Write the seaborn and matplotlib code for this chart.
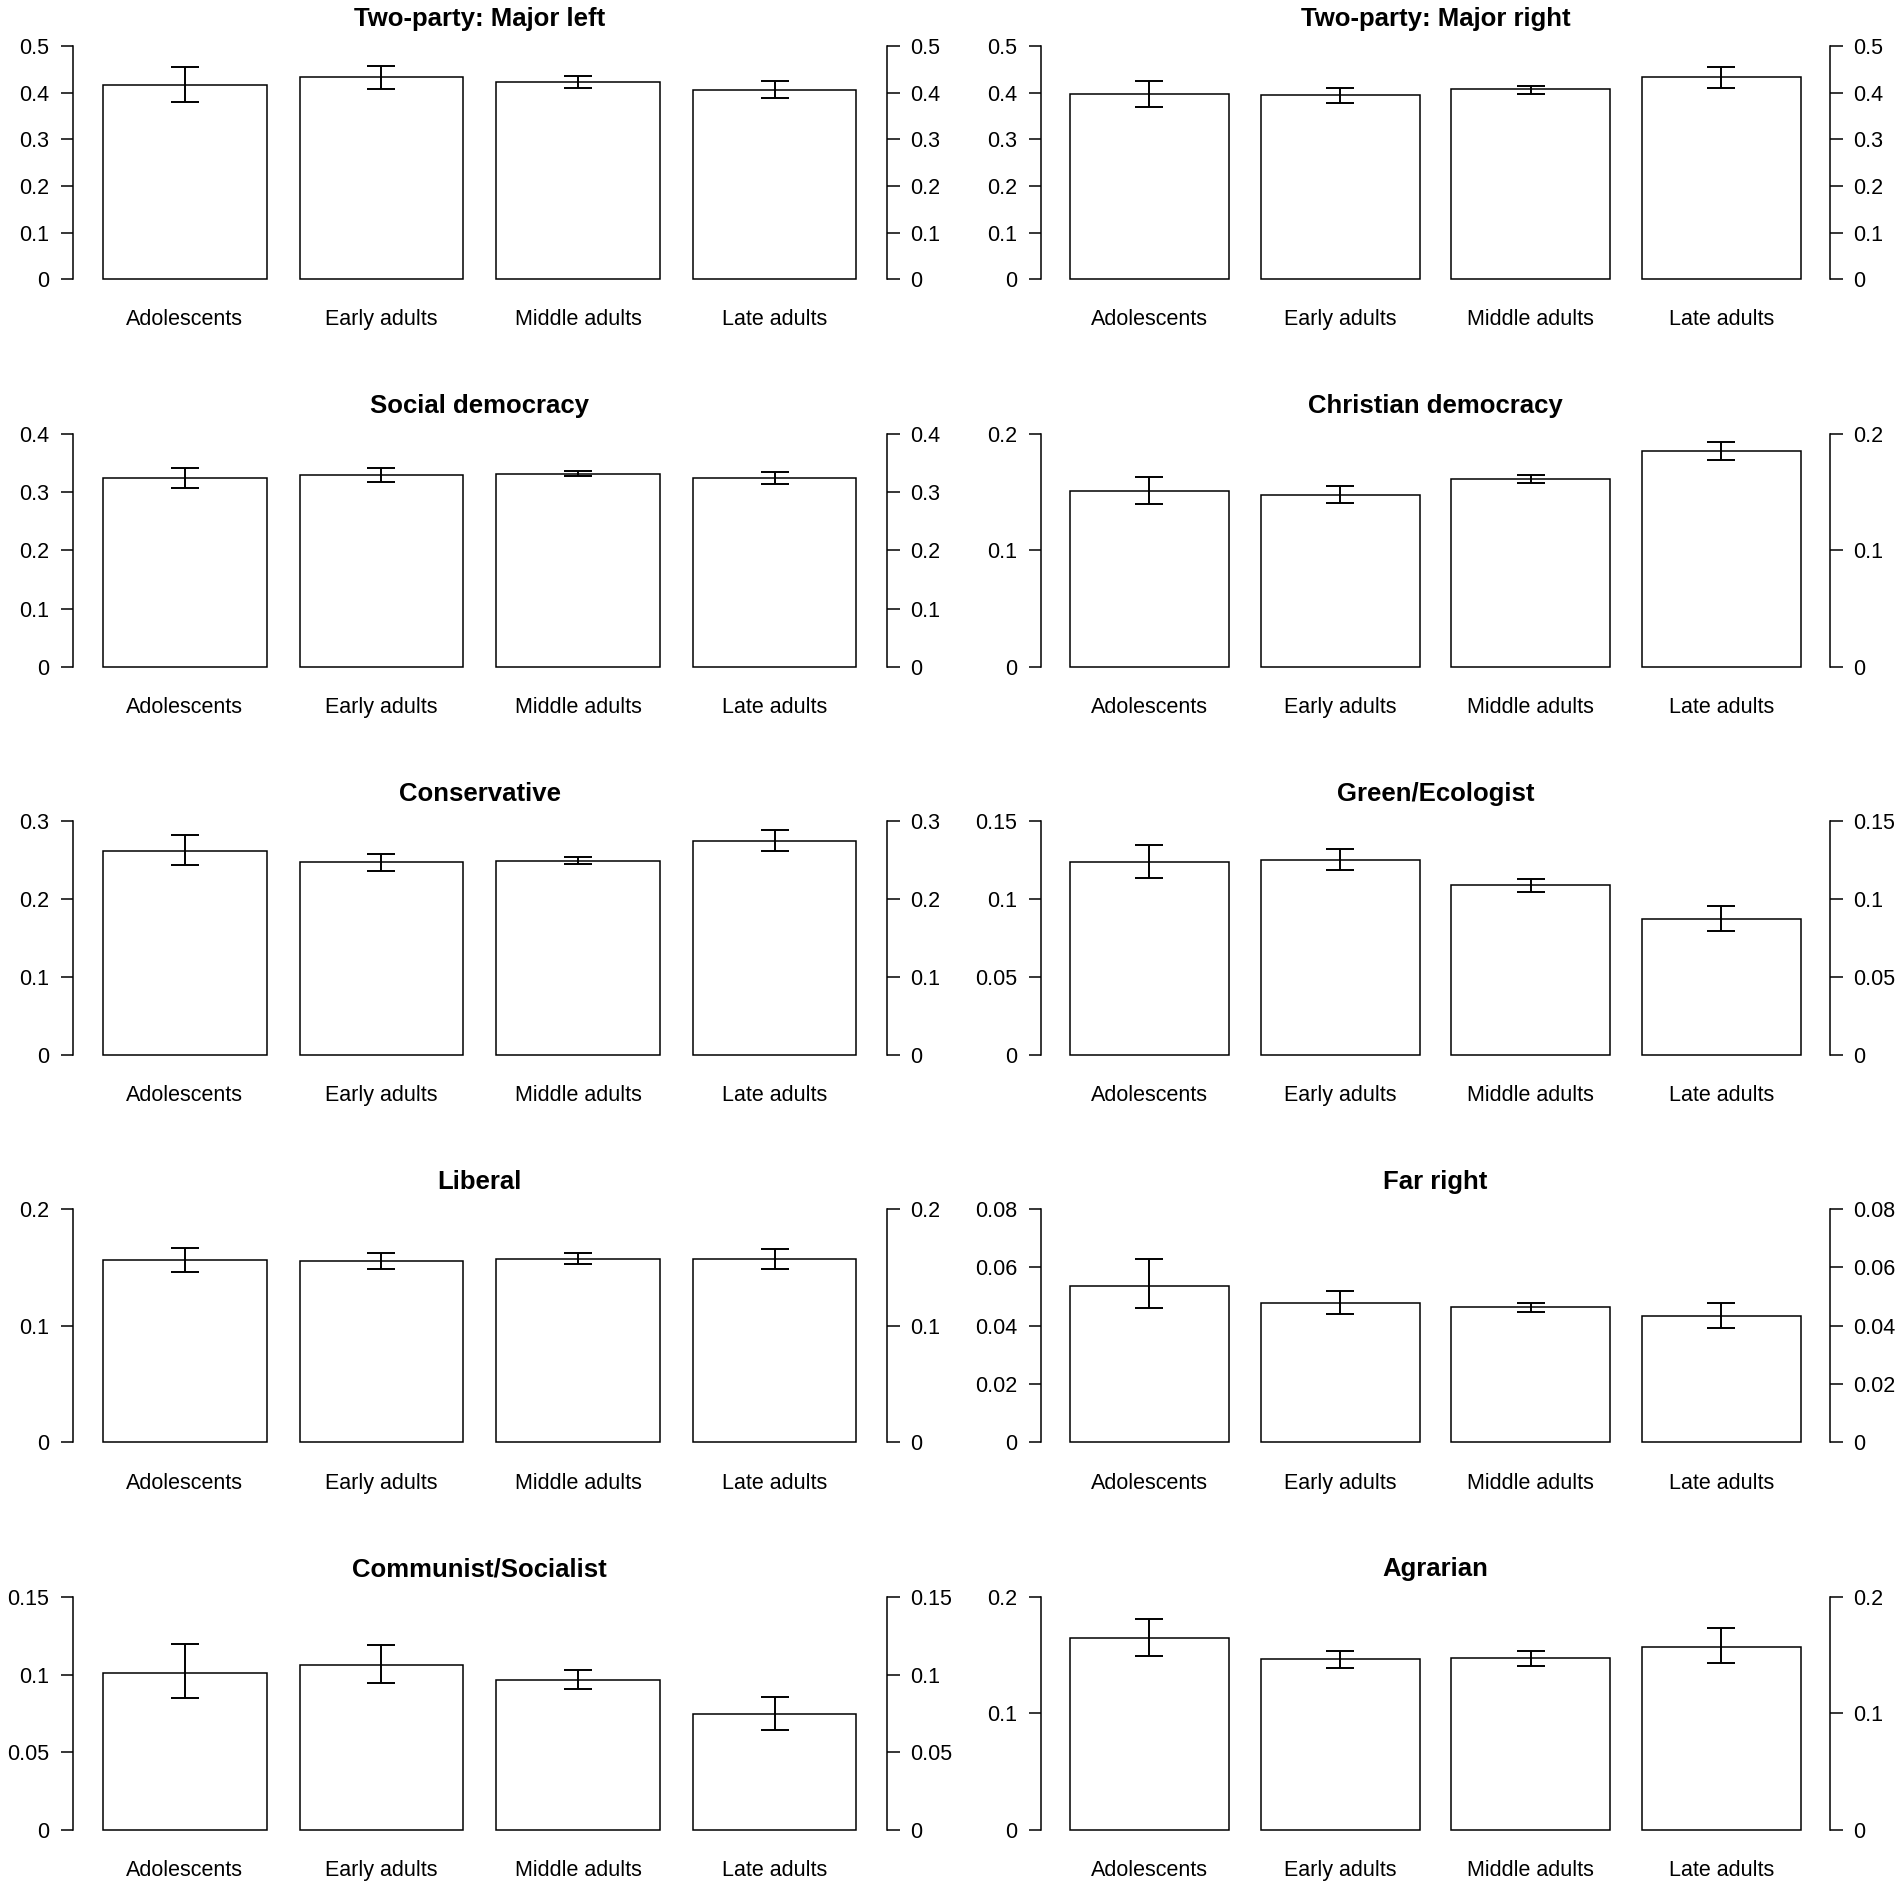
import numpy as np
import pandas as pd
import matplotlib
matplotlib.use("Agg")
import matplotlib.pyplot as plt
import seaborn as sns

sns.set_style("white")
plt.rcParams["font.family"] = ["Liberation Sans", "DejaVu Sans"]
plt.rcParams["text.color"] = "black"

groups = ["Adolescents", "Early adults", "Middle adults", "Late adults"]

titles = ["Two-party: Major left", "Two-party: Major right",
          "Social democracy", "Christian democracy",
          "Conservative", "Green/Ecologist",
          "Liberal", "Far right",
          "Communist/Socialist", "Agrarian"]

major_left = [0.417, 0.433, 0.423, 0.406]
major_left_lo = [0.381, 0.408, 0.409, 0.389]
major_left_hi = [0.455, 0.457, 0.435, 0.424]

major_right = [0.397, 0.394, 0.407, 0.434]
major_right_lo = [0.370, 0.378, 0.397, 0.411]
major_right_hi = [0.425, 0.409, 0.415, 0.455]

social_dem = [0.3246, 0.329, 0.331, 0.3246]
social_dem_lo = [0.3074, 0.3177, 0.3269, 0.3143]
social_dem_hi = [0.3417, 0.3406, 0.336, 0.3337]

christian_dem = [0.1506, 0.1474, 0.1611, 0.1854]
christian_dem_lo = [0.1394, 0.1406, 0.1574, 0.1777]
christian_dem_hi = [0.1631, 0.1549, 0.1646, 0.1931]

conservative = [0.2619, 0.2473, 0.249, 0.2752]
conservative_lo = [0.2434, 0.2366, 0.2447, 0.2614]
conservative_hi = [0.2829, 0.258, 0.2541, 0.2893]

green = [0.1239, 0.1254, 0.1089, 0.0872]
green_lo = [0.1138, 0.1189, 0.1044, 0.0797]
green_hi = [0.1348, 0.1322, 0.1131, 0.0954]

liberal = [0.156, 0.1551, 0.1574, 0.1569]
liberal_lo = [0.146, 0.1483, 0.1526, 0.1483]
liberal_hi = [0.1663, 0.1626, 0.1623, 0.1657]

far_right = [0.0538, 0.0479, 0.0463, 0.0433]
far_right_lo = [0.0461, 0.0440, 0.0446, 0.0392]
far_right_hi = [0.0630, 0.0520, 0.0479, 0.0479]

communist = [0.1011, 0.1062, 0.0966, 0.0744]
communist_lo = [0.0850, 0.0947, 0.0904, 0.0643]
communist_hi = [0.1197, 0.1188, 0.1030, 0.0857]

agrarian = [0.1647, 0.1467, 0.1476, 0.1573]
agrarian_lo = [0.1496, 0.1393, 0.1410, 0.1430]
agrarian_hi = [0.1809, 0.1538, 0.1538, 0.1732]

ticks_list = [
    [0, 0.1, 0.2, 0.3, 0.4, 0.5],
    [0, 0.1, 0.2, 0.3, 0.4, 0.5],
    [0, 0.1, 0.2, 0.3, 0.4],
    [0, 0.1, 0.2],
    [0, 0.1, 0.2, 0.3],
    [0, 0.05, 0.1, 0.15],
    [0, 0.1, 0.2],
    [0, 0.02, 0.04, 0.06, 0.08],
    [0, 0.05, 0.1, 0.15],
    [0, 0.1, 0.2],
]
tick_labels_list = [
    ["0", "0.1", "0.2", "0.3", "0.4", "0.5"],
    ["0", "0.1", "0.2", "0.3", "0.4", "0.5"],
    ["0", "0.1", "0.2", "0.3", "0.4"],
    ["0", "0.1", "0.2"],
    ["0", "0.1", "0.2", "0.3"],
    ["0", "0.05", "0.1", "0.15"],
    ["0", "0.1", "0.2"],
    ["0", "0.02", "0.04", "0.06", "0.08"],
    ["0", "0.05", "0.1", "0.15"],
    ["0", "0.1", "0.2"],
]

series = [
    (major_left, major_left_lo, major_left_hi),
    (major_right, major_right_lo, major_right_hi),
    (social_dem, social_dem_lo, social_dem_hi),
    (christian_dem, christian_dem_lo, christian_dem_hi),
    (conservative, conservative_lo, conservative_hi),
    (green, green_lo, green_hi),
    (liberal, liberal_lo, liberal_hi),
    (far_right, far_right_lo, far_right_hi),
    (communist, communist_lo, communist_hi),
    (agrarian, agrarian_lo, agrarian_hi),
]

W, H = 1902, 1886
fig = plt.figure(figsize=(W / 100, H / 100), dpi=100)

col_x = [(72.8, 886.6), (1040.8, 1830.0)]
row_pitch = 387.7
zero_y0 = 279.3
max_y0 = 46.0

for i, (vals, lo, hi) in enumerate(series):
    r, c = divmod(i, 2)
    x0, x1 = col_x[c]
    yz = zero_y0 + row_pitch * r
    ym = max_y0 + row_pitch * r
    span = yz - ym
    bottom_px = yz + 0.04 * span
    top_px = ym - 0.04 * span
    ax = fig.add_axes([x0 / W, 1 - bottom_px / H, (x1 - x0) / W, (bottom_px - top_px) / H])
    df = pd.DataFrame({"group": groups, "value": vals})
    sns.barplot(data=df, x="group", y="value", ax=ax, color="white", saturation=1,
                edgecolor="black", linewidth=1.1, width=1 / 1.2, errorbar=None)
    v = np.array(vals)
    yerr = np.vstack([v - np.array(lo), np.array(hi) - v])
    ax.errorbar(np.arange(len(groups)), v, yerr=yerr, fmt="none", ecolor="black",
                elinewidth=1.4, capsize=10, capthick=1.4, zorder=5)
    tks = ticks_list[i]
    M = tks[-1]
    ax.set_ylim(-0.04 * M, 1.04 * M)
    ax.set_xlim(-0.57, 3.57)
    ax.set_yticks(tks)
    ax.set_yticklabels(tick_labels_list[i])
    ax.set_xlabel("")
    ax.set_ylabel("")
    for s in ["top", "bottom"]:
        ax.spines[s].set_visible(False)
    for s in ["left", "right"]:
        ax.spines[s].set_visible(True)
        ax.spines[s].set_bounds(0, M)
        ax.spines[s].set_linewidth(1.1)
        ax.spines[s].set_color("black")
    ax.tick_params(axis="y", left=True, right=True, labelleft=True, labelright=True,
                   direction="out", length=9, width=1.1, pad=8, labelsize=15.5, colors="black")
    ax.tick_params(axis="x", bottom=False, length=0, pad=15, labelsize=15.5, colors="black")
    ax.set_title(titles[i], fontsize=18.5, fontweight="bold", pad=8, color="black")
    ax.grid(False)

fig.savefig("out.png", dpi=100)
